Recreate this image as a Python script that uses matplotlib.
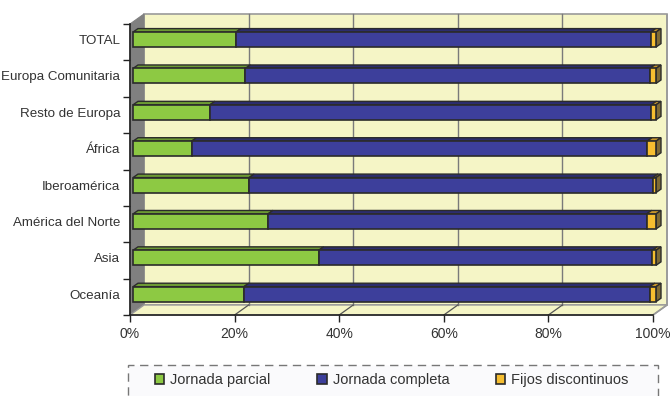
import matplotlib
matplotlib.use("Agg")
import matplotlib.pyplot as plt
from matplotlib.patches import Polygon, Rectangle

categories = ["TOTAL", "Europa Comunitaria", "Resto de Europa", "África",
              "Iberoamérica", "América del Norte", "Asia", "Oceanía"]
parcial = [19.7, 21.5, 14.7, 11.2, 22.2, 25.8, 35.5, 21.2]
completa = [79.3, 77.3, 84.4, 87.1, 77.2, 72.4, 63.8, 77.6]
fijos = [1.0, 1.2, 0.9, 1.7, 0.6, 1.8, 0.7, 1.2]
series_names = ["Jornada parcial", "Jornada completa", "Fijos discontinuos"]
xticks = [0, 20, 40, 60, 80, 100]
xticklabels = ["0%", "20%", "40%", "60%", "80%", "100%"]

front_cols = ["#8DC943", "#3D3F9B", "#F6BE30"]
top_cols = ["#6C9A33", "#2C2D6E", "#C8962A"]
side_cols = ["#5E862B", "#25265C", "#7E6A35"]
edge = "#2B2B2B"

plt.rcParams["font.family"] = ["Liberation Sans", "DejaVu Sans"]

fig = plt.figure(figsize=(6.72, 3.96), dpi=100)
L, R, T, B = 130, 653, 24, 315
ax = fig.add_axes([L / 672, 1 - B / 396, (R - L) / 672, (B - T) / 396])
ax.set_xlim(0, 100)
n = len(categories)
ax.set_ylim(n - 0.5, -0.5)
ax.set_facecolor("none")

PX = (R - L) / 100.0
PY = (B - T) / n


def sh(x, y, dx, dy):
    return (x + dx / PX, y - dy / PY)


WX, WY = 14, 10
wall_col = "#F5F5C6"
y0, y1 = n - 0.5, -0.5
# back wall
ax.add_patch(Polygon([sh(0, y0, WX, WY), sh(100, y0, WX, WY), sh(100, y1, WX, WY), sh(0, y1, WX, WY)],
                     closed=True, facecolor=wall_col, edgecolor="#9A9A9A", lw=1.2, zorder=0, clip_on=False))
# left wall
ax.add_patch(Polygon([(0, y0), (0, y1), sh(0, y1, WX, WY), sh(0, y0, WX, WY)],
                     closed=True, facecolor="#808080", edgecolor="#808080", lw=0.8, zorder=0.5, clip_on=False))
# floor
ax.add_patch(Polygon([(0, y0), (100, y0), sh(100, y0, WX, WY), sh(0, y0, WX, WY)],
                     closed=True, facecolor=wall_col, edgecolor="#9A9A9A", lw=1.0, zorder=0.5, clip_on=False))
# right wall edge
ax.add_patch(Polygon([(100, y0), sh(100, y0, WX, WY), sh(100, y1, WX, WY)],
                     closed=False, fill=False, edgecolor="#9A9A9A", lw=1.2, zorder=0.6, clip_on=False))
# gridlines
for xv in xticks[1:-1]:
    a, b = sh(xv, y0, WX, WY), sh(xv, y1, WX, WY)
    ax.plot([a[0], b[0]], [a[1], b[1]], color="#7A7A7A", lw=1.0, zorder=0.7, clip_on=False)
    ax.plot([xv, a[0]], [y0, a[1]], color="#555555", lw=0.9, zorder=0.7, clip_on=False)

# bars
BFX, BFY = 3, 2.6
BDX, BDY = 5, 3.5
BH = 15 / PY
handles = []
for i in range(n):
    vals = [parcial[i], completa[i], fijos[i]]
    left = 0.0
    cy = i - BFY / PY
    for k, v in enumerate(vals):
        x0 = left + BFX / PX
        x1 = left + v + BFX / PX
        top = cy - BH / 2
        bot = cy + BH / 2
        r = Rectangle((x0, top), x1 - x0, BH, facecolor=front_cols[k], edgecolor=edge,
                      lw=1.2, zorder=3, clip_on=False)
        ax.add_patch(r)
        if i == 0:
            handles.append(r)
        ax.add_patch(Polygon([(x0, top), (x1, top), sh(x1, top, BDX, BDY), sh(x0, top, BDX, BDY)],
                             closed=True, facecolor=top_cols[k], edgecolor=edge, lw=1.0,
                             zorder=2.5, clip_on=False))
        if k == len(vals) - 1:
            ax.add_patch(Polygon([(x1, top), (x1, bot), sh(x1, bot, BDX, BDY), sh(x1, top, BDX, BDY)],
                                 closed=True, facecolor=side_cols[k], edgecolor=edge, lw=1.0,
                                 zorder=2.5, clip_on=False))
        left += v

# axes styling
for s in ["top", "right"]:
    ax.spines[s].set_visible(False)
for s in ["left", "bottom"]:
    ax.spines[s].set_color("#222222")
    ax.spines[s].set_linewidth(1.2)
    ax.spines[s].set_zorder(4)

ax.set_yticks([i - BFY / PY for i in range(n)])
ax.set_yticklabels(categories, fontsize=9.6, color="#333333")
ax.tick_params(axis="y", which="major", length=0, pad=7)
ax.set_yticks([i - 0.5 for i in range(n + 1)], minor=True)
ax.tick_params(axis="y", which="minor", length=5, width=1.0, color="#222222", direction="out")
ax.set_xticks(xticks)
ax.set_xticklabels(xticklabels, fontsize=10, color="#333333")
ax.tick_params(axis="x", length=5, width=1.0, color="#222222", direction="out", pad=4)

# legend box
fig.patches.append(Rectangle((128 / 672, -0.1), (658 - 128) / 672, (396 - 365) / 396 + 0.1,
                             transform=fig.transFigure, facecolor="#FAFAFC", edgecolor="#777777",
                             lw=1.0, linestyle=(0, (6, 4)), zorder=0))
leg = fig.legend(handles, series_names, loc="center", bbox_to_anchor=(0.583, 0.04), ncol=3,
                 frameon=False, fontsize=10.5, handlelength=0.65, handleheight=0.65,
                 handletextpad=0.4, columnspacing=3.2)
for t in leg.get_texts():
    t.set_color("#333333")

fig.savefig("out.png", dpi=100)
